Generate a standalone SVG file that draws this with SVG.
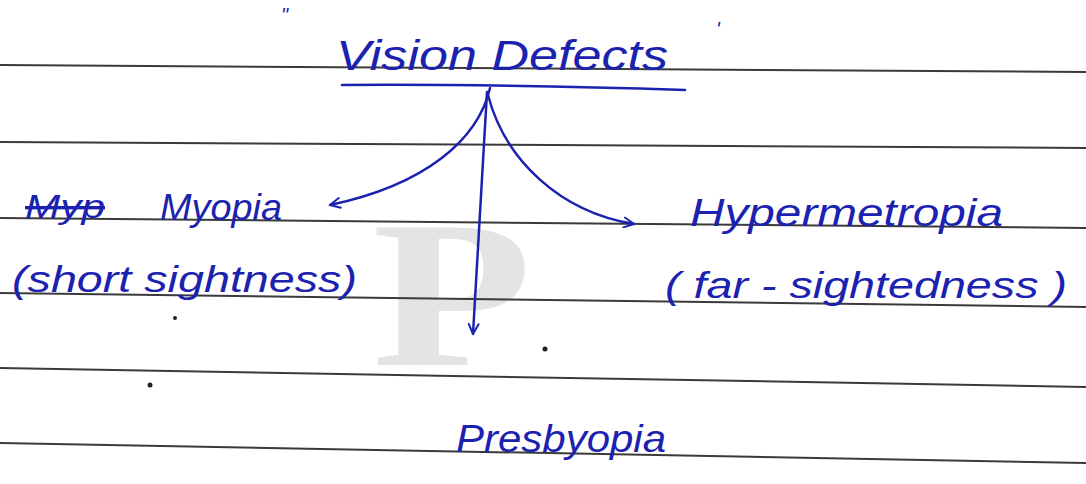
<svg xmlns="http://www.w3.org/2000/svg" width="1086" height="484" viewBox="0 0 1086 484">
  <style>
    .rule { stroke: #3a3a3a; stroke-width: 2; fill: none; }
    .ink { fill: #1c22b0; font-family: "Liberation Sans", "DejaVu Sans", sans-serif; font-style: italic; }
    .wire { stroke: #1c22b0; stroke-width: 2.5; fill: none; stroke-linecap: round; }
    .wm { fill: #e4e4e4; font-family: "Liberation Serif", serif; font-weight: bold; }
  </style>
  <defs>
    <marker id="arr" viewBox="0 0 12 12" refX="11" refY="6" markerWidth="12" markerHeight="12" markerUnits="userSpaceOnUse" orient="auto">
      <path d="M1,1 L11,6 L1,11" fill="none" stroke="#1c22b0" stroke-width="2" stroke-linecap="round" stroke-linejoin="round"/>
    </marker>
  </defs>
  <rect width="1086" height="484" fill="#ffffff"/>

  <!-- watermark -->
  <g id="watermark">
    <text class="wm" x="372" y="365" font-size="210" textLength="160" lengthAdjust="spacingAndGlyphs">P</text>
  </g>

  <!-- ruled paper -->
  <g id="rules">
    <line class="rule" x1="0" y1="65" x2="1086" y2="72"/>
    <line class="rule" x1="0" y1="142" x2="1086" y2="148"/>
    <line class="rule" x1="0" y1="218" x2="1086" y2="228"/>
    <line class="rule" x1="0" y1="293" x2="1086" y2="307"/>
    <line class="rule" x1="0" y1="368" x2="1086" y2="387"/>
    <line class="rule" x1="0" y1="443" x2="1086" y2="463"/>
  </g>

  <!-- stray ink dots -->
  <g id="dots" fill="#222">
    <circle cx="150" cy="385" r="2.5"/>
    <circle cx="545" cy="349" r="2.5"/>
    <circle cx="175" cy="318" r="2"/>
  </g>

  <g id="title">
    <text class="ink" x="281" y="22" font-size="20">"</text>
    <text class="ink" x="716" y="36" font-size="20">'</text>
    <text class="ink" x="336" y="70" font-size="42" textLength="332" lengthAdjust="spacingAndGlyphs">Vision Defects</text>
    <path class="wire" d="M342,85 Q500,84 685,90"/>
  </g>

  <g id="connectors">
    <path class="wire" d="M490,88 C478,140 425,185 330,205" marker-end="url(#arr)"/>
    <path class="wire" d="M488,95 C505,160 560,212 634,224" marker-end="url(#arr)"/>
    <path class="wire" d="M487,92 L473,334" marker-end="url(#arr)"/>
  </g>

  <g id="myopia">
    <text class="ink" x="25" y="218" font-size="34" text-decoration="line-through" textLength="80" lengthAdjust="spacingAndGlyphs">Myp</text>
    <text class="ink" x="160" y="220" font-size="36" textLength="122" lengthAdjust="spacingAndGlyphs">Myopia</text>
    <text class="ink" x="12" y="292" font-size="36" textLength="345" lengthAdjust="spacingAndGlyphs">(short sightness)</text>
  </g>

  <g id="hypermetropia">
    <text class="ink" x="690" y="226" font-size="38" textLength="313" lengthAdjust="spacingAndGlyphs">Hypermetropia</text>
    <text class="ink" x="665" y="298" font-size="36" textLength="402" lengthAdjust="spacingAndGlyphs">( far - sightedness )</text>
  </g>

  <g id="presbyopia">
    <text class="ink" x="456" y="452" font-size="38" textLength="210" lengthAdjust="spacingAndGlyphs">Presbyopia</text>
  </g>
</svg>
